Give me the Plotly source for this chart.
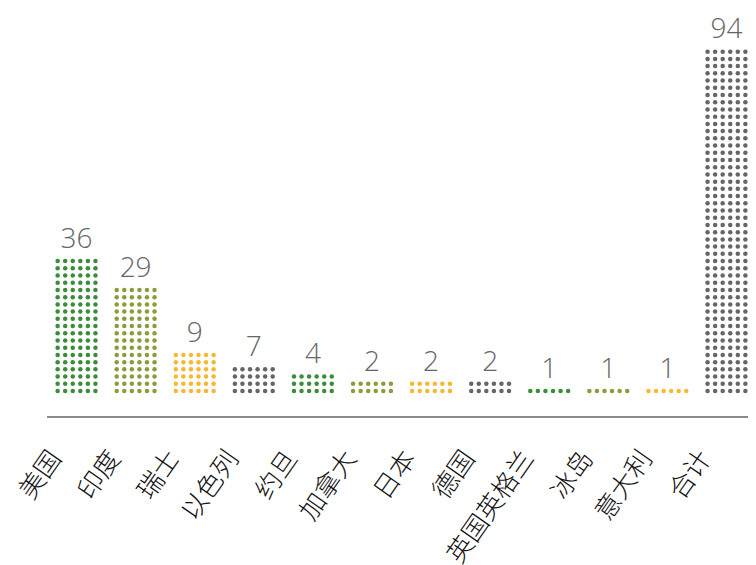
import plotly.graph_objects as go

categories = ["美国", "印度", "瑞士", "以色列", "约旦", "加拿大", "日本", "德国", "英国英格兰", "冰岛", "意大利", "合计"]
values = [36, 29, 9, 7, 4, 2, 2, 2, 1, 1, 1, 94]
dot_rows = [19, 15, 6, 4, 3, 2, 2, 2, 1, 1, 1, 48]
palette = ["#3b8d3b", "#8a9d3a", "#f8b730", "#666666"]

COLS = 6
DX = 0.128

fig = go.Figure()
for i, (cat, v, r) in enumerate(zip(categories, values, dot_rows)):
    xs, ys = [], []
    for row in range(r):
        for c in range(COLS):
            xs.append(i + (c - (COLS - 1) / 2) * DX)
            ys.append(row)
    fig.add_trace(go.Scatter(
        x=xs, y=ys, mode="markers",
        marker=dict(size=4.5, color=palette[i % 4], line=dict(width=0)),
        hoverinfo="skip", showlegend=False, xaxis="x", yaxis="y"))

fig.add_trace(go.Scatter(
    x=list(range(len(categories))),
    y=[r - 1 + 2.8 for r in dot_rows],
    mode="text", text=[str(v) for v in values],
    textposition="middle center", cliponaxis=False,
    textfont=dict(family="Open Sans", size=28, color="#666666", weight=300),
    hoverinfo="skip", showlegend=False, xaxis="x", yaxis="y"))

# invisible trace to attach the label axis
fig.add_trace(go.Scatter(x=[0], y=[0], mode="markers", marker=dict(opacity=0),
                         hoverinfo="skip", showlegend=False, xaxis="x2", yaxis="y"))

LABEL_SHIFT = 0.42
fig.update_layout(
    width=748, height=557,
    margin=dict(l=39, r=0, t=0, b=149, autoexpand=False),
    paper_bgcolor="white", plot_bgcolor="white",
    xaxis=dict(range=[-0.5, len(categories) - 0.5], showgrid=False, zeroline=False,
               showticklabels=False, showline=True, linecolor="#8a8a8a", linewidth=2,
               ticks="", automargin=False),
    xaxis2=dict(range=[-0.5, len(categories) - 0.5], overlaying="x", side="bottom",
                anchor="y", showgrid=False, zeroline=False, showline=False,
                tickmode="array", automargin=False, ticklabeloverflow="allow",
                tickvals=[i - LABEL_SHIFT for i in range(len(categories))],
                ticktext=categories, tickangle=-55, ticks="",
                ticklabelstandoff=21,
                tickfont=dict(family="Noto Sans CJK SC", size=26, color="#111111",
                              weight=300)),
    yaxis=dict(range=[-3.46, 53.05], showgrid=False, zeroline=False,
               showticklabels=False, showline=False, automargin=False),
)

fig.write_html("out.html")
